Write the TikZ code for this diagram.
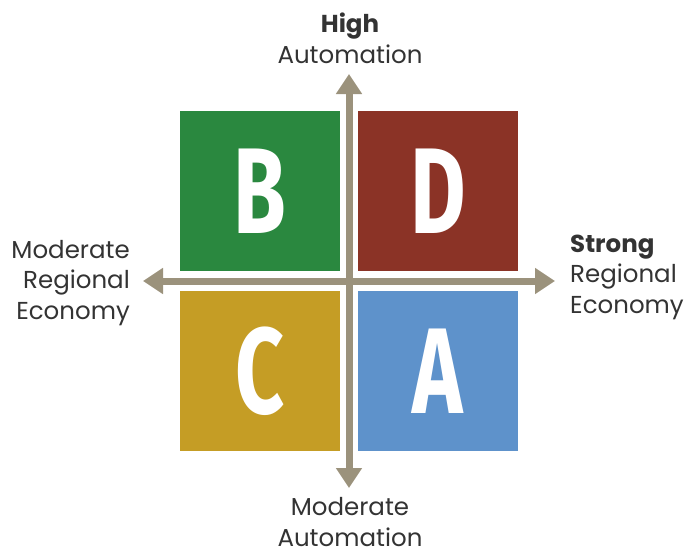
\documentclass[tikz,border=0pt]{standalone}
\usepackage{fontspec}
\setmainfont{Poppins}
\newfontfamily\quadfont{Fira Sans}
\usetikzlibrary{arrows.meta}
\definecolor{quadgreen}{HTML}{2A883F}
\definecolor{quadred}{HTML}{8B3326}
\definecolor{quadyellow}{HTML}{C59D25}
\definecolor{quadblue}{HTML}{5E92CB}
\definecolor{axisgray}{HTML}{9B927C}
\definecolor{textgray}{HTML}{333333}
\newcommand{\quadletter}[1]{\scalebox{0.7}[1]{\quadfont\fontsize{122}{122}\selectfont\bfseries #1}}
\tikzset{
  quad/.style={minimum size=160pt,inner sep=0,text=white},
  axis/.style={axisgray,line width=7pt,-{Triangle[width=25pt,length=20pt]}},
  lbl/.style={text=textgray,inner sep=0,font=\fontsize{24.5}{30.5}\selectfont}
}
\begin{document}
\begin{tikzpicture}[x=1pt,y=-1pt]
    \useasboundingbox (0,0) rectangle (689,555);
    %QUADRANTS
    \node[quad,fill=quadgreen]  (quadB) at (260,191) {\quadletter{B}};
    \node[quad,fill=quadred]    (quadD) at (438,191) {\quadletter{D}};
    \node[quad,fill=quadyellow] (quadC) at (260,371) {\quadletter{C}};
    \node[quad,fill=quadblue]   (quadA) at (438,371) {\quadletter{A}};
    %AXIS ENDS
    \coordinate (origin) at (349,281);
    \coordinate (top) at (349,74);
    \coordinate (bottom) at (349,488);
    \coordinate (left) at (143,281);
    \coordinate (right) at (555,281);
    %AXIS Y
    \draw[axis] (origin) -- (top);
    \draw[axis] (origin) -- (bottom);
    %AXIS X
    \draw[axis] (origin) -- (left);
    \draw[axis] (origin) -- (right);
    %LABELS (BASE = LAST LINE)
    \node[lbl,anchor=base,align=center] (highlbl) at (350,63) {\textbf{High}\\Automation};
    \node[lbl,anchor=base,align=center] (modautolbl) at (350,546) {Moderate\\Automation};
    \node[lbl,anchor=base east,align=right] (modecolbl) at (130,319) {Moderate\\Regional\\Economy};
    \node[lbl,anchor=base west,align=left] (strongecolbl) at (570,313) {\textbf{Strong}\\Regional\\Economy};
\end{tikzpicture}
\end{document}
